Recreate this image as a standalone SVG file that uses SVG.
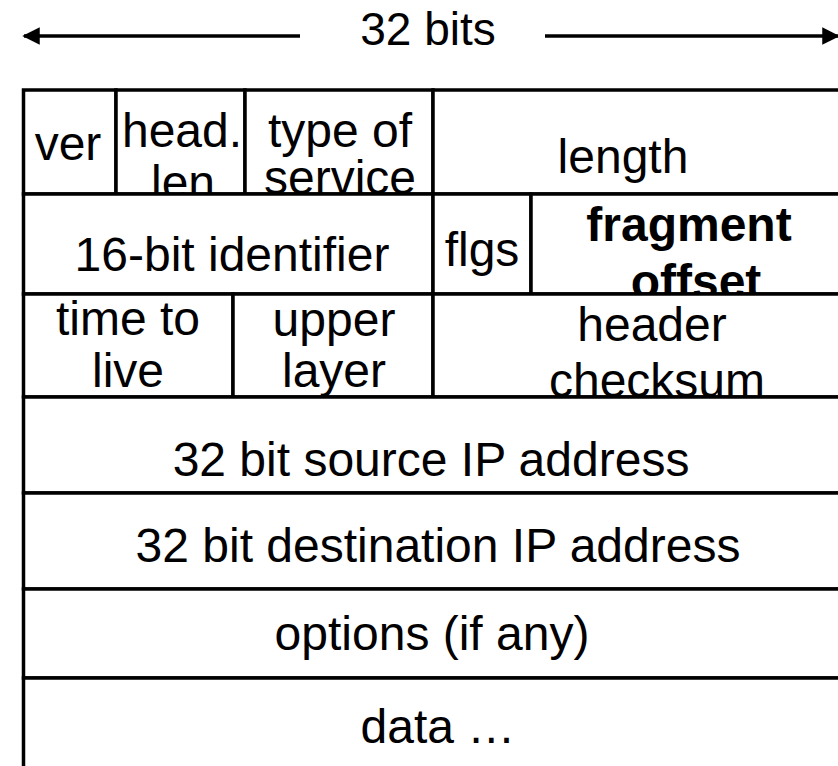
<svg xmlns="http://www.w3.org/2000/svg" width="838" height="766" viewBox="0 0 838 766">
  <defs>
    <marker id="arrowhead" viewBox="0 0 10 10" refX="9" refY="5" markerWidth="5" markerHeight="5" orient="auto-start-reverse" markerUnits="strokeWidth">
      <path d="M0,0 L10,5 L0,10 z" fill="#000"/>
    </marker>
    <style>
      .cell { fill: #fff; stroke: #000; stroke-width: 3.5; }
      .lbl { font-family: "Liberation Sans", Arial, sans-serif; font-size: 48px; fill: #000; text-anchor: middle; }
      .title { font-size: 46px; }
      .bold { font-weight: bold; }
      .conn { stroke: #000; stroke-width: 3.5; fill: none; }
    </style>
  </defs>
  <rect width="838" height="766" fill="#fff"/>

  <!-- width indicator -->
  <g id="connectors">
    <line class="conn" x1="300" y1="36" x2="24" y2="36" marker-end="url(#arrowhead)"/>
    <line class="conn" x1="545" y1="36" x2="838" y2="36" marker-end="url(#arrowhead)"/>
  </g>
  <text id="width-label" class="lbl title" x="428" y="45">32 bits</text>

  <!-- row 1 -->
  <g id="ver">
    <rect class="cell" x="23.5" y="90" width="92.5" height="104"/>
    <text class="lbl" x="68" y="160">ver</text>
  </g>
  <g id="head-len">
    <rect class="cell" x="116" y="90" width="129" height="104"/>
    <text class="lbl" x="182" y="147">head.</text>
    <text class="lbl" x="183" y="199">len</text>
  </g>
  <g id="type-of-service">
    <rect class="cell" x="245" y="90" width="188" height="104"/>
    <text class="lbl" x="340" y="147">type of</text>
    <text class="lbl" x="340" y="194">service</text>
  </g>
  <g id="length">
    <rect class="cell" x="433" y="90" width="420" height="104"/>
    <text class="lbl" x="623" y="173">length</text>
  </g>

  <!-- row 2 -->
  <g id="identifier">
    <rect class="cell" x="23.5" y="194" width="409.5" height="100"/>
    <text class="lbl" x="232" y="271">16-bit identifier</text>
  </g>
  <g id="flags">
    <rect class="cell" x="433" y="194" width="98" height="100"/>
    <text class="lbl" x="482" y="266">flgs</text>
  </g>
  <g id="fragment-offset">
    <rect class="cell" x="531" y="194" width="322" height="100"/>
    <text class="lbl bold" x="689" y="241">fragment</text>
    <text class="lbl bold" x="696" y="298">offset</text>
  </g>

  <!-- row 3 -->
  <g id="time-to-live">
    <rect class="cell" x="23.5" y="294" width="209.5" height="103"/>
    <text class="lbl" x="128" y="335">time to</text>
    <text class="lbl" x="128" y="387">live</text>
  </g>
  <g id="upper-layer">
    <rect class="cell" x="233" y="294" width="200" height="103"/>
    <text class="lbl" x="334" y="336">upper</text>
    <text class="lbl" x="334" y="387">layer</text>
  </g>
  <g id="header-checksum">
    <rect class="cell" x="433" y="294" width="420" height="103"/>
    <text class="lbl" x="652" y="341">header</text>
    <text class="lbl" x="657" y="397">checksum</text>
  </g>

  <!-- rows 4 to 7 -->
  <g id="source-address">
    <rect class="cell" x="23.5" y="397" width="829.5" height="96"/>
    <text class="lbl" x="431" y="476">32 bit source IP address</text>
  </g>
  <g id="destination-address">
    <rect class="cell" x="23.5" y="493" width="829.5" height="96"/>
    <text class="lbl" x="438" y="562">32 bit destination IP address</text>
  </g>
  <g id="options">
    <rect class="cell" x="23.5" y="589" width="829.5" height="89"/>
    <text class="lbl" x="432" y="650">options (if any)</text>
  </g>
  <g id="data">
    <rect class="cell" x="23.5" y="678" width="829.5" height="110"/>
    <text class="lbl" x="438" y="743">data …</text>
  </g>
</svg>
